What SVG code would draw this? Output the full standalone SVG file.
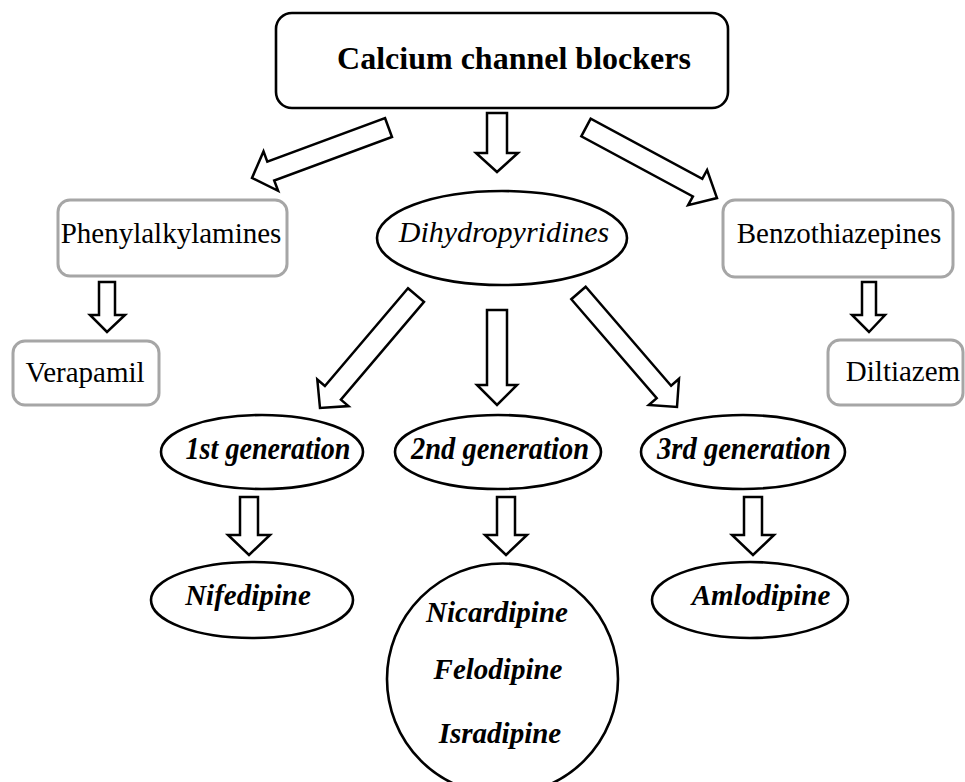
<svg xmlns="http://www.w3.org/2000/svg" width="965" height="782" viewBox="0 0 965 782">
<style>
text{font-family:"Liberation Serif","Times New Roman",serif;fill:#000;text-anchor:middle}
.blk{fill:#fff;stroke:#000;stroke-width:2.6}
.gry{fill:#fff;stroke:#a6a6a6;stroke-width:3}
.arr{fill:#fff;stroke:#000;stroke-width:2.5;stroke-linejoin:miter}
.reg{font-size:29px}
.it{font-size:30px;font-style:italic}
.bi{font-size:29px;font-style:italic;font-weight:bold}
.gen{font-size:31px;font-style:italic;font-weight:bold}
</style>
<rect width="965" height="782" fill="#fff"/>
<g id="connectors">
<polygon class="arr" points="385,118 392,137 274.2,180.5 278.1,190.8 252,178 263.5,151.4 267.3,161.7"/>
<polygon class="arr" points="487,113 507,113 507,153 518,153 497,172 476,153 487,153"/>
<polygon class="arr" points="590.7,118.7 581.3,136.3 692.9,196.4 688.1,205.2 717,198 707.1,170 702.3,178.8"/>
<polygon class="arr" points="99,282 115,282 115,315 125,315 107,332 90,315 99,315"/>
<polygon class="arr" points="862,282 876,282 876,315 885,315 869,332 852,315 862,315"/>
<polygon class="arr" points="408,288.2 424,301.8 340.9,399.6 348.5,406.1 320,408 317.3,379.5 324.9,386"/>
<polygon class="arr" points="487,310 507,310 507,385 517,385 497,405 477,385 487,385"/>
<polygon class="arr" points="585.7,286.8 571.3,299.2 656.7,398.1 648.8,405 677,407 679,378.8 671.1,385.7"/>
<polygon class="arr" points="240,497 258,497 258,535 270,535 249,555 228,535 240,535"/>
<polygon class="arr" points="497,497 515,497 515,535 527,535 506,555 485,535 497,535"/>
<polygon class="arr" points="744,497 762,497 762,535 774,535 753,555 732,535 744,535"/>
</g>
<g id="ccb">
<rect class="blk" x="276" y="13" width="452" height="95" rx="16"/>
<text x="514" y="69" style="font-size:32px;font-weight:bold">Calcium channel blockers</text>
</g>
<g id="phenylalkylamines">
<rect class="gry" x="58" y="200" width="229" height="76" rx="12"/>
<text class="reg" x="171" y="243">Phenylalkylamines</text>
</g>
<g id="verapamil">
<rect class="gry" x="13" y="341" width="146" height="64" rx="12"/>
<text class="reg" x="85" y="382">Verapamil</text>
</g>
<g id="dihydropyridines">
<ellipse class="blk" cx="502" cy="238" rx="125" ry="47"/>
<text class="it" x="504" y="242">Dihydropyridines</text>
</g>
<g id="benzothiazepines">
<rect class="gry" x="723" y="200" width="230" height="77" rx="12"/>
<text class="reg" x="839" y="243">Benzothiazepines</text>
</g>
<g id="diltiazem">
<rect class="gry" x="828" y="340" width="135" height="65" rx="12"/>
<text class="reg" x="903" y="381">Diltiazem</text>
</g>
<g id="gen1">
<ellipse class="blk" cx="262" cy="452" rx="101" ry="37"/>
<text class="gen" x="268" y="459" textLength="165" lengthAdjust="spacingAndGlyphs">1st generation</text>
</g>
<g id="gen2">
<ellipse class="blk" cx="498" cy="452" rx="103" ry="37"/>
<text class="gen" x="500" y="459" textLength="178" lengthAdjust="spacingAndGlyphs">2nd generation</text>
</g>
<g id="gen3">
<ellipse class="blk" cx="743" cy="452" rx="102" ry="37"/>
<text class="gen" x="744" y="459" textLength="174" lengthAdjust="spacingAndGlyphs">3rd generation</text>
</g>
<g id="nifedipine">
<ellipse class="blk" cx="252" cy="600" rx="101" ry="38"/>
<text class="bi" x="248" y="605">Nifedipine</text>
</g>
<g id="gen2drugs">
<circle class="blk" cx="502.5" cy="679" r="115.5"/>
<text class="bi" x="497" y="622">Nicardipine</text>
<text class="bi" x="498" y="679">Felodipine</text>
<text class="bi" x="500" y="743">Isradipine</text>
</g>
<g id="amlodipine">
<ellipse class="blk" cx="750" cy="600" rx="98" ry="38"/>
<text class="bi" x="761" y="605">Amlodipine</text>
</g>
</svg>
